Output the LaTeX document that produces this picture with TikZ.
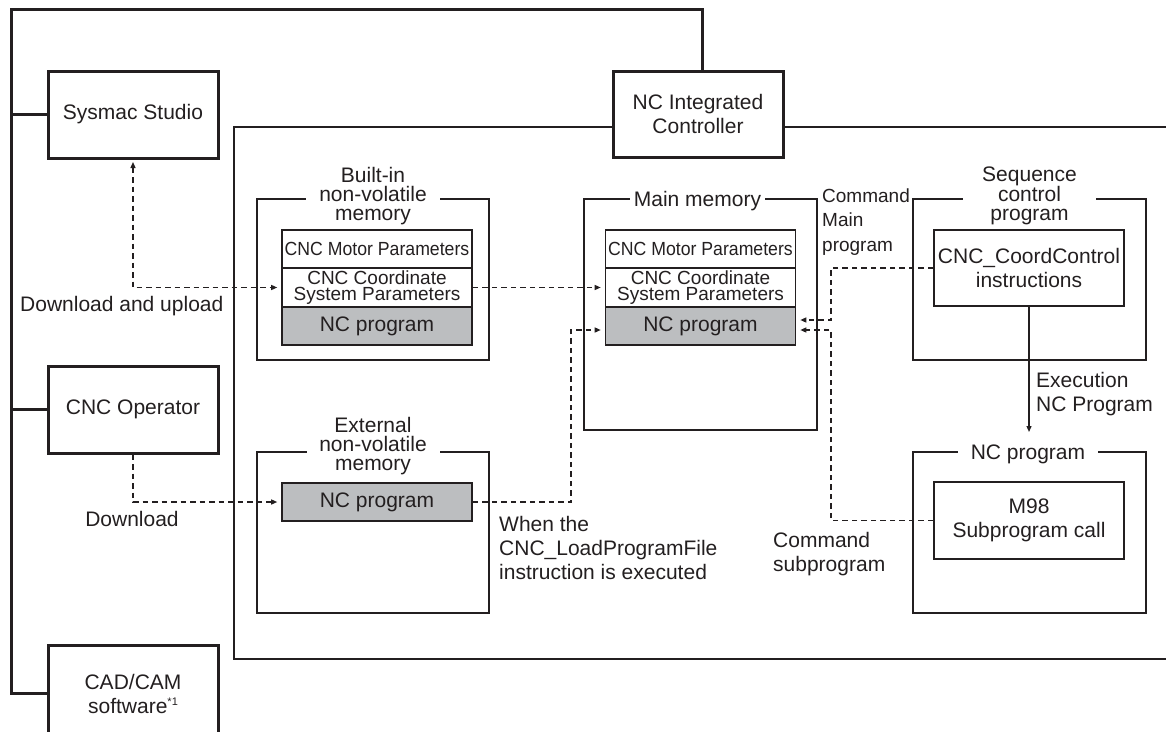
\documentclass[tikz,border=0pt]{standalone}
\usepackage{fontspec}
\usepackage{graphicx}
\setmainfont{Liberation Sans}
\usetikzlibrary{arrows.meta}
\definecolor{ink}{HTML}{231F20}
\definecolor{cellgray}{HTML}{BCBEC0}

\begin{document}
\begin{tikzpicture}[x=1pt,y=-1pt,
  every node/.style={font=\fontsize{21}{24}\selectfont, text=ink, inner sep=0pt},
  ext/.style={draw=ink, line width=3pt, minimum width=170pt, minimum height=87pt, align=center},
  bus/.style={draw=ink, line width=3pt},
  cont/.style={draw=ink, line width=1.8pt},
  frame/.style={draw=ink, line width=1.8pt, minimum width=232pt, minimum height=161pt},
  cell/.style={draw=ink, line width=1.6pt, minimum width=190pt, align=center,
    font=\fontsize{19}{16.5}\selectfont},
  prog/.style={draw=ink, line width=1.6pt, minimum width=190pt, minimum height=38pt,
    fill=cellgray},
  inbox/.style={draw=ink, line width=1.6pt, minimum width=190pt, align=center},
  lbl/.style={fill=white, align=center, font=\fontsize{21}{19}\selectfont},
  dconn/.style={draw=ink, line width=1.3pt, dash pattern=on 5.5pt off 4pt},
  sconn/.style={draw=ink, line width=1.3pt},
  tip/.style={-{Triangle[length=6pt,width=5pt]}, shorten >=4pt},
  txt/.style={anchor=west, align=left}
]
\useasboundingbox (0,0) rectangle (1166,731);
\clip (0,0) rectangle (1166,731);

% external devices
\node[ext] (sysmac) at (133,114.5) {Sysmac Studio};
\node[ext] (oper) at (133,409.5) {CNC Operator};
\node[ext, minimum height=97pt] (cadcam) at (133,693.5)
  {CAD/CAM\\software\raisebox{8pt}{\fontsize{11}{11}\selectfont *1}};
\node[ext, minimum height=86pt] (nc) at (698,114) {NC Integrated\\Controller};

% bus linking the devices with the controller
\coordinate (busTL) at (11,9);
\coordinate (busTR) at (702,9);
\draw[bus] (cadcam.west) -| (busTL) -- (busTR) -- (busTR |- nc.north);
\draw[bus] (sysmac.west) -- (sysmac.west -| busTL);
\draw[bus] (oper.west) -- (oper.west -| busTL);

% controller boundary
\draw[cont] ([yshift=-13pt]nc.west) -- (234,127) -- (234,659) -- (1180,659);
\draw[cont] ([yshift=-13pt]nc.east) -- (1180,127);

% built-in non-volatile memory
\node[frame] (bim) at (373,279.5) {};
\node[cell, minimum height=38pt] (bmotor) at (377,249)
  {\scalebox{0.93}[1]{CNC Motor Parameters}};
\node[cell, minimum height=39pt] (bcoord) at (377,287.5)
  {CNC Coordinate\\System Parameters};
\node[prog] (bprog) at (377,326) {NC program};
\node[lbl, minimum width=134pt] (bimlbl) at (373,196) {Built-in\\non-volatile\\memory};

% main memory
\node[frame, minimum width=233pt, minimum height=231pt] (mm) at (700.5,314.5) {};
\node[cell, minimum height=38pt] (mmotor) at (700.5,249)
  {\scalebox{0.93}[1]{CNC Motor Parameters}};
\node[cell, minimum height=39pt] (mcoord) at (700.5,287.5)
  {CNC Coordinate\\System Parameters};
\node[prog] (mprog) at (700.5,326) {NC program};
\node[lbl, minimum width=135pt] (mmlbl) at (697.5,201) {Main memory};

% external non-volatile memory
\node[frame] (em) at (373,532.5) {};
\node[prog] (eprog) at (377,502) {NC program};
\node[lbl, minimum width=133pt] (emlbl) at (373,446) {External\\non-volatile\\memory};

% sequence control program
\node[frame, minimum width=233pt] (seq) at (1029.5,279.5) {};
\node[inbox, minimum height=76pt] (ccc) at (1029,268) {CNC\_CoordControl\\instructions};
\node[lbl, minimum width=133pt] (seqlbl) at (1029.5,196) {Sequence\\control\\program};

% NC program
\node[frame, minimum width=233pt] (npf) at (1029.5,532.5) {};
\node[inbox, minimum height=77pt] (m98) at (1029,520.5) {M98\\Subprogram call};
\node[lbl, minimum width=140pt] (nplbl) at (1028,454) {NC program};

% transfers
\draw[dconn, {Triangle[length=6pt,width=5pt]}-{Triangle[length=6pt,width=5pt]},
  shorten <=2.5pt, shorten >=4pt] (sysmac.south) |- (bcoord.west);
\draw[dconn, tip] (bcoord.east) -- (mcoord.west);
\draw[dconn, tip] (oper.south) |- (eprog.west);
\coordinate (jl) at (571,502);
\draw[dconn, tip] (eprog.east) -- (jl) |- ([yshift=-4pt]mprog.west);
\coordinate (jr) at (831,0);
\draw[dconn, tip] (ccc.west) -- (ccc.west -| jr) |- ([yshift=6pt]mprog.east);
\draw[dconn, tip] (m98.west) -- (m98.west -| jr) |- ([yshift=-4pt]mprog.east);
\coordinate (exend) at (1029,432);
\draw[sconn, -{Triangle[length=6pt,width=5pt]}] (ccc.south) -- (exend);

% annotations
\node[txt] (dlul) at (20,306) {Download and upload};
\node (dl) at (132,519) {Download};
\node[txt, font=\fontsize{19}{24.5}\selectfont] (cmdmain) at (822,222) {Command\\Main\\program};
\node[txt] (exec) at (1036,394) {Execution\\NC Program};
\node[txt] (when) at (499,548) {When the\\CNC\_LoadProgramFile\\instruction is executed};
\node[txt] (cmdsub) at (773,554) {Command\\subprogram};
\end{tikzpicture}
\end{document}
